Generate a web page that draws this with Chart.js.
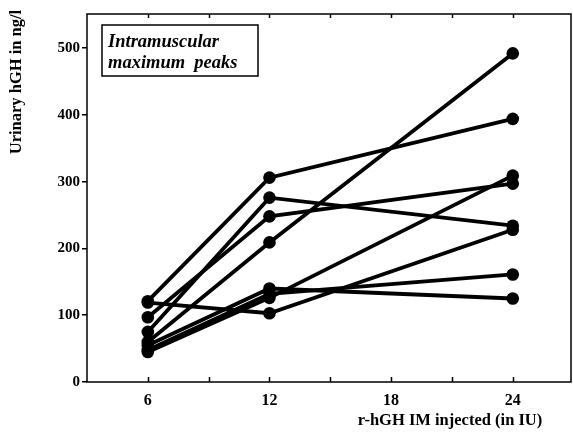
<!DOCTYPE html>
<html>
<head>
<meta charset="utf-8">
<script src="https://cdn.jsdelivr.net/npm/chart.js@4/dist/chart.umd.min.js"></script>
<style>
html,body{margin:0;padding:0;background:#fff;}
canvas{display:block;}
</style>
</head>
<body>
<canvas id="c" width="573" height="434"></canvas>
<script>
// Dose (IU) categories
const doses = [6, 12, 24];
// Maximum urinary hGH peaks per subject (ng/l) at 6, 12, 24 IU
const subject1 = [121, 306, 394];
const subject2 = [119, 103, 228];
const subject3 = [97, 248, 297];
const subject4 = [75, 276, 234];
const subject5 = [60, 209, 492];
const subject6 = [55, 140, 125];
const subject7 = [48, 132, 161];
const subject8 = [45, 126, 309];
const subjects = [subject1, subject2, subject3, subject4, subject5, subject6, subject7, subject8];
// Tick values
const xMajorTicks = [6, 12, 18, 24];
const xMinorTicks = [6, 9, 12, 15, 18, 21, 24];
const yTicks = [0, 100, 200, 300, 400, 500];

const titleX = 'r-hGH IM injected (in IU)';
const titleY = 'Urinary hGH in ng/l';
const boxLines = ['Intramuscular', 'maximum  peaks'];

const SERIF = '"Liberation Serif", "DejaVu Serif", serif';

const datasets = subjects.map((s, i) => ({
  label: 'Subject ' + (i + 1),
  data: doses.map((d, j) => ({x: d, y: s[j]})),
  borderColor: '#000',
  backgroundColor: '#000',
  borderWidth: 3.8,
  pointRadius: 6.3,
  pointHoverRadius: 6.3,
  pointBorderWidth: 0,
  tension: 0,
  fill: false
}));

const decor = {
  id: 'decor',
  afterDraw(chart) {
    const ctx = chart.ctx;
    const a = chart.chartArea;
    const xs = chart.scales.x;
    const frameRight = chart.width - 2;
    ctx.save();
    // frame
    ctx.strokeStyle = '#000';
    ctx.lineWidth = 1.5;
    ctx.strokeRect(a.left, a.top, frameRight - a.left, a.bottom - a.top);
    // inward ticks bottom and top
    xMinorTicks.forEach(v => {
      const px = Math.round(xs.getPixelForValue(v)) + 0.5;
      ctx.beginPath();
      ctx.moveTo(px, a.bottom);
      ctx.lineTo(px, a.bottom - 5);
      ctx.moveTo(px, a.top);
      ctx.lineTo(px, a.top + 4);
      ctx.stroke();
    });
    // axis titles
    ctx.fillStyle = '#000';
    ctx.font = 'bold 16.5px ' + SERIF;
    ctx.textAlign = 'center';
    ctx.textBaseline = 'middle';
    ctx.fillText(titleX, 450, 421);
    ctx.save();
    ctx.translate(17, 82);
    ctx.rotate(-Math.PI / 2);
    ctx.font = 'bold 16.5px ' + SERIF;
    ctx.fillText(titleY, 0, 0);
    ctx.restore();
    // legend box
    ctx.lineWidth = 1.5;
    ctx.strokeRect(102, 25, 156, 51);
    ctx.font = 'italic bold 18.5px ' + SERIF;
    ctx.textAlign = 'left';
    ctx.textBaseline = 'alphabetic';
    ctx.fillText(boxLines[0], 108, 47);
    ctx.fillText(boxLines[1], 108, 68);
    ctx.restore();
  }
};

new Chart(document.getElementById('c'), {
  type: 'line',
  data: { datasets },
  options: {
    responsive: false,
    animation: false,
    events: [],
    layout: { padding: { left: 0, top: 14, right: 2, bottom: 0 } },
    plugins: { legend: { display: false }, tooltip: { enabled: false } },
    scales: {
      x: {
        type: 'linear',
        min: 3,
        max: 26.66,
        afterBuildTicks(scale) { scale.ticks = xMajorTicks.map(v => ({value: v})); },
        afterFit(scale) { scale.height = 52; },
        grid: { display: false, drawTicks: false },
        border: { display: false },
        ticks: {
          color: '#000',
          padding: 9,
          maxRotation: 0,
          autoSkip: false,
          font: { family: SERIF, size: 16, weight: 'bold' }
        }
      },
      y: {
        type: 'linear',
        min: 0,
        max: 551,
        afterBuildTicks(scale) { scale.ticks = yTicks.map(v => ({value: v})); },
        afterFit(scale) { scale.width = 87; },
        grid: { display: true, drawOnChartArea: false, drawTicks: true, tickLength: 5, color: '#000', lineWidth: 1.5 },
        border: { display: false },
        ticks: {
          color: '#000',
          padding: 2,
          autoSkip: false,
          font: { family: SERIF, size: 15, weight: 'bold' }
        }
      }
    }
  },
  plugins: [decor]
});
</script>
</body>
</html>
